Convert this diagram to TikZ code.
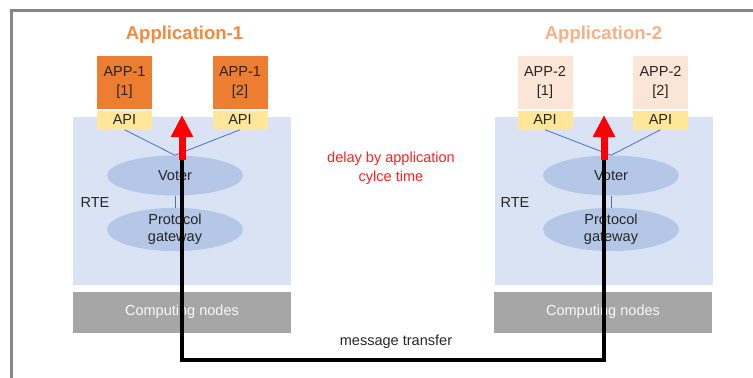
\documentclass[tikz,border=0pt]{standalone}
\usepackage{fontspec}
\setmainfont{Liberation Sans}
\usetikzlibrary{arrows.meta,shapes.geometric}
\definecolor{apporange}{HTML}{ED7D31}
\definecolor{applight}{HTML}{FBE5D6}
\definecolor{titleone}{HTML}{F08A3C}
\definecolor{titletwo}{HTML}{F4B183}
\definecolor{apiyellow}{HTML}{FFE699}
\definecolor{rteblue}{HTML}{DAE3F3}
\definecolor{ellblue}{HTML}{B4C7E7}
\definecolor{linkblue}{HTML}{4472C4}
\definecolor{compgray}{HTML}{A6A6A6}
\definecolor{framegray}{HTML}{878787}
\definecolor{txt}{HTML}{262626}
\definecolor{delayred}{HTML}{FF2020}
\begin{document}
\begin{tikzpicture}[x=0.75pt,y=-0.75pt,
  every node/.style={font=\fontsize{10.9}{14.25}\selectfont, text=txt},
  appbox/.style={rectangle, inner sep=0pt, minimum width=41.25pt, minimum height=39.75pt, align=center, font=\fontsize{10.9}{14.25}\selectfont},
  apibox/.style={rectangle, fill=apiyellow, inner sep=0pt, minimum width=41.25pt, minimum height=14.25pt},
  rtebox/.style={rectangle, fill=rteblue, inner sep=0pt, minimum width=163.5pt, minimum height=126pt},
  compbox/.style={rectangle, fill=compgray, inner sep=0pt, minimum width=163.5pt, minimum height=30.75pt, text=white!95!gray},
  ell/.style={ellipse, fill=ellblue, inner sep=0pt, minimum width=102pt, minimum height=30pt, align=center, font=\fontsize{10.9}{12.75}\selectfont},
  link/.style={draw=linkblue, line width=0.6pt},
  msg/.style={draw=black, line width=2.4pt},
  redarrow/.style={draw=red, line width=5.25pt, -{Triangle[width=15.75pt,length=16.5pt]}},
  titlestyle/.style={font=\fontsize{13.9}{16}\selectfont\bfseries}
]
\useasboundingbox (0,0) rectangle (753,378);
% frame
\draw[framegray, line width=2.25pt] (11.5,378) -- (11.5,10.5) -- (753,10.5);

% ---------- left
\node[rtebox] (rteA) at (182,201) {};
\node[compbox] (compA) at (182,312) {Computing nodes};
\node[titlestyle, text=titleone] (titleA) at (184.5,35) {Application-1};
\node[appbox, fill=apporange] (appA1) at (124.5,82.5) {APP-1\\{[1]}};
\node[appbox, fill=apporange] (appA2) at (240,82.5) {APP-1\\{[2]}};
\node[apibox] (apiA1) at (124.5,120) {API};
\node[apibox] (apiA2) at (240,120) {API};
\node[ell] (voterA) at (175,175.5) {Voter};
\node[ell, minimum height=30.75pt] (gwA) at (175,229.5) {Protocol\\gateway};
\node (rteAl) at (95,202) {RTE};
\draw[link] (apiA1.south) -- (voterA.north);
\draw[link] (apiA2.south) -- (voterA.north);
\draw[link] (voterA.south) -- (gwA.north);

% ---------- right
\node[rtebox] (rteB) at (603.5,201) {};
\node[compbox] (compB) at (603,312) {Computing nodes};
\node[titlestyle, text=titletwo] (titleB) at (603.5,35) {Application-2};
\node[appbox, fill=applight] (appB1) at (545,82.5) {APP-2\\{[1]}};
\node[appbox, fill=applight] (appB2) at (660.5,82.5) {APP-2\\{[2]}};
\node[apibox] (apiB1) at (545,120) {API};
\node[apibox] (apiB2) at (660.5,120) {API};
\node[ell] (voterB) at (611,175.5) {Voter};
\node[ell, minimum height=30.75pt] (gwB) at (611,229.5) {Protocol\\gateway};
\node (rteBl) at (515,202) {RTE};
\draw[link] (apiB1.south) -- (voterB.north);
\draw[link] (apiB2.south) -- (voterB.north);
\draw[link] (voterB.south) -- (gwB.north);

% ---------- middle texts
\node[text=delayred, align=center, font=\fontsize{10.9}{14.25}\selectfont] (delay) at (391,168.5) {delay by application\\cylce time};
\node (msgl) at (396,341.5) {message transfer};

% ---------- message transfer path
\coordinate (baseA) at (182,160);
\coordinate (tipA) at (182,115);
\coordinate (baseB) at (604,160);
\coordinate (tipB) at (604,115);
\coordinate (cornA) at (182,360);
\coordinate (cornB) at (604,360);
\draw[msg] (baseA) -- (cornA) -- (cornB) -- (baseB);
\draw[redarrow] (baseA) -- (tipA);
\draw[redarrow] (baseB) -- (tipB);
\end{tikzpicture}
\end{document}
